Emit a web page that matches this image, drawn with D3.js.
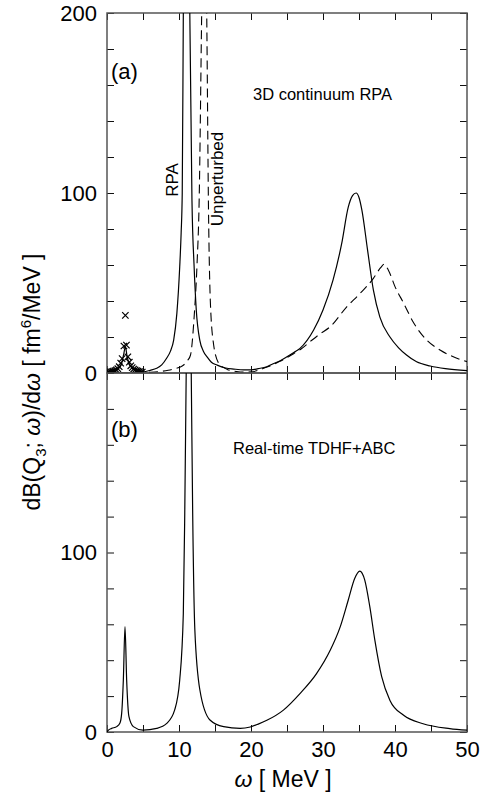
<!DOCTYPE html>
<html>
<head>
<meta charset="utf-8">
<script src="https://cdn.jsdelivr.net/npm/d3@7"></script>
<style>
  body { margin: 0; background: #fff; }
  svg { display: block; font-family: "Liberation Sans", Arial, Helvetica, sans-serif; }
  .tick line { stroke: #111; stroke-width: 1; }
</style>
</head>
<body>
<div id="chart"></div>
<script>
const width = 481;
const height = 797;

// plot area (both panels share x)
const left = 107, right = 467;
const topA = 13, baseA = 373, baseB = 732;

// panel (a): continuum RPA (solid) [omega MeV, value]
const rpaCurve = [
  [0, 0.3], [0.5, 0.5], [1, 1], [1.5, 2], [2, 5], [2.3, 10], [2.55, 14.5], [2.8, 9],
  [3.1, 5], [3.5, 2.5], [4, 1.2], [4.5, 0.8], [5.1, 0.7], [6, 1.5], [6.9, 2.6], [7.6, 4.5],
  [8.3, 8.3], [8.8, 12], [9.26, 18.3], [9.7, 33], [10.1, 59], [10.3, 78], [10.45, 100],
  [10.6, 200], [10.8, 300], [11.05, 350], [11.3, 300], [11.5, 200], [11.8, 96], [12.1, 59],
  [12.4, 35], [12.9, 18], [13.4, 12], [13.9, 9], [14.5, 6], [15.3, 4.4], [16.5, 2.8],
  [17.6, 2.2], [19, 1.7], [20, 1.7], [21, 2.4], [22.2, 3.5], [23, 5], [24, 6.7], [25, 9],
  [26, 11.5], [26.8, 13.7], [28.7, 23.9], [30, 35], [31.4, 51.7], [32.6, 72], [33.5, 92],
  [34.1, 98.5], [34.6, 100], [35, 97.5], [35.4, 90.5], [36.2, 68], [37, 46], [37.9, 31],
  [39.3, 20], [40.5, 14], [41.6, 10], [43, 6.2], [44.9, 3.9], [47, 2.4], [50, 1.3]
];

// panel (a): unperturbed (dashed)
const unpertCurve = [
  [0, 0], [4.5, 0], [5.5, 0.3], [7, 0.7], [8.5, 1.5], [9.5, 2.5], [10.5, 4], [11.2, 7],
  [11.6, 10], [12.1, 31], [12.5, 60], [12.8, 96], [13.15, 200], [13.5, 300], [13.85, 200],
  [14.1, 90], [14.35, 40], [14.8, 16], [15.5, 5.5], [16.2, 3], [16.7, 2], [18, 0.8],
  [19, 0.5], [20, 0.6], [21, 1.5], [22, 3], [23, 4.5], [24, 6.5], [25, 8.5], [26, 11],
  [27, 13.5], [28.2, 17.4], [29.5, 21.5], [31, 25.7], [33.3, 36.8], [35.1, 44], [37, 52.6],
  [38, 58.5], [38.5, 60.4], [39.1, 57], [40, 48], [41.2, 38.8], [42.5, 28.5], [44.4, 18.3],
  [46.25, 12.8], [48.1, 9], [50, 6.3]
];

// panel (a): low-lying discrete points (crosses)
const crossPoints = [
  [0.1, 0.3], [0.3, 0.4], [0.5, 0.6], [0.7, 0.8], [0.9, 1.0], [1.1, 1.3], [1.3, 1.7],
  [1.5, 2.4], [1.7, 3.5], [1.9, 5.5], [2.1, 8], [2.35, 15], [2.55, 32], [2.7, 15.5],
  [2.9, 9], [3.1, 6], [3.3, 4], [3.5, 3], [3.7, 2.2], [3.9, 1.7], [4.1, 1.3], [4.3, 1],
  [4.5, 0.8], [4.7, 0.6], [4.9, 0.5]
];

// panel (b): real-time TDHF+ABC
const tdhfCurve = [
  [0, 0], [0.2, 1], [0.65, 2], [1.35, 3], [1.8, 5], [2.04, 10.5], [2.27, 29], [2.5, 58.7],
  [2.73, 29], [3.05, 8.5], [3.66, 3], [5, 1], [6.9, 2], [8.3, 4.8], [9.4, 12.3], [10.1, 29],
  [10.6, 66], [10.8, 122], [11.0, 200], [11.35, 320], [11.7, 200], [11.9, 122], [12.2, 57],
  [12.9, 23.4], [14.3, 6.7], [16.2, 3], [18.5, 2], [19.9, 2.8], [21, 4.4], [22.2, 6.5],
  [24.5, 12.2], [26.8, 21.4], [29.1, 32.5], [31, 45.5], [32.4, 58.7],
  [33.5, 73.4], [34.4, 85.5], [35.1, 89.6], [35.8, 84.6], [36.5, 69.8], [37.2, 51.2],
  [38.15, 30.8], [39.3, 17.6], [41.2, 9.3], [43.9, 4.6], [47.6, 1.9], [50, 1]
];

const xTicks = d3.range(0, 51, 5);
const xLabels = [0, 10, 20, 30, 40, 50];
const yTicks = d3.range(0, 201, 20);
const yLabelsA = [0, 100, 200];
const yLabelsB = [0, 100];

const svg = d3.select("#chart").append("svg")
  .attr("width", width).attr("height", height);

const x = d3.scaleLinear().domain([0, 50]).range([left, right]);

const panels = [
  { id: "a", y: d3.scaleLinear().domain([0, 200]).range([baseA, topA]), labels: yLabelsA },
  { id: "b", y: d3.scaleLinear().domain([0, 200]).range([baseB, baseA]), labels: yLabelsB }
];

const line = (y) => d3.line().x(d => x(d[0])).y(d => y(d[1])).curve(d3.curveMonotoneX);

panels.forEach(p => {
  const [y0, y1] = p.y.range();
  const g = svg.append("g");

  g.append("clipPath").attr("id", "clip-" + p.id)
    .append("rect").attr("x", left).attr("y", y1).attr("width", right - left).attr("height", y0 - y1);

  // ticks, all pointing inward
  g.append("g").attr("transform", `translate(${left},0)`)
    .call(d3.axisLeft(p.y).tickValues(yTicks).tickSize(-7).tickFormat(""))
    .call(a => a.select(".domain").remove());
  g.append("g").attr("transform", `translate(${right},0)`)
    .call(d3.axisRight(p.y).tickValues(yTicks).tickSize(-7).tickFormat(""))
    .call(a => a.select(".domain").remove());
  g.append("g").attr("transform", `translate(0,${y0})`)
    .call(d3.axisBottom(x).tickValues(xTicks).tickSize(-7).tickFormat(""))
    .call(a => a.select(".domain").remove());
  g.append("g").attr("transform", `translate(0,${y1})`)
    .call(d3.axisTop(x).tickValues(xTicks).tickSize(-7).tickFormat(""))
    .call(a => a.select(".domain").remove());

  // y labels
  g.append("g").attr("transform", `translate(${left},0)`)
    .call(d3.axisLeft(p.y).tickValues(p.labels).tickSize(0).tickPadding(10))
    .call(a => a.select(".domain").remove())
    .selectAll("text").attr("font-size", 22).attr("fill", "#000")
    .attr("font-family", "Liberation Sans, Arial, sans-serif");

  g.append("rect")
    .attr("x", left).attr("y", y1).attr("width", right - left).attr("height", y0 - y1)
    .attr("fill", "none").attr("stroke", "#555").attr("stroke-width", 1.5);

  p.g = g;
});

const [pa, pb] = panels;

const plotA = pa.g.append("g").attr("clip-path", "url(#clip-a)");
plotA.append("path").datum(unpertCurve)
  .attr("d", line(pa.y)).attr("fill", "none").attr("stroke", "#000")
  .attr("stroke-width", 1.1).attr("stroke-dasharray", "9,5");
plotA.append("path").datum(rpaCurve)
  .attr("d", line(pa.y)).attr("fill", "none").attr("stroke", "#000").attr("stroke-width", 1.2);

const s = 3.2;
plotA.append("g").selectAll("path").data(crossPoints).join("path")
  .attr("d", d => {
    const cx = x(d[0]), cy = pa.y(d[1]);
    return `M${cx - s},${cy - s}L${cx + s},${cy + s}M${cx - s},${cy + s}L${cx + s},${cy - s}`;
  })
  .attr("stroke", "#000").attr("stroke-width", 1.2);

const plotB = pb.g.append("g").attr("clip-path", "url(#clip-b)");
plotB.append("path").datum(tdhfCurve)
  .attr("d", line(pb.y)).attr("fill", "none").attr("stroke", "#000").attr("stroke-width", 1.2);

// x tick labels
svg.append("g").attr("transform", `translate(0,${baseB})`)
  .call(d3.axisBottom(x).tickValues(xLabels).tickSize(0).tickPadding(9))
  .call(a => a.select(".domain").remove())
  .selectAll("text").attr("font-size", 22).attr("fill", "#000")
  .attr("font-family", "Liberation Sans, Arial, sans-serif");

// annotations
const txt = (xp, yp, str, size) => svg.append("text")
  .attr("x", xp).attr("y", yp).attr("font-size", size).text(str);

txt(111, 79, "(a)", 22);
txt(111, 437, "(b)", 22);
txt(253, 100, "3D continuum RPA", 16.5);
txt(233, 454, "Real-time TDHF+ABC", 16.5);

svg.append("text").attr("transform", "translate(178,180) rotate(-90)")
  .attr("text-anchor", "middle").attr("font-size", 17).text("RPA");
svg.append("text").attr("transform", "translate(223,179) rotate(-90)")
  .attr("text-anchor", "middle").attr("font-size", 17).text("Unperturbed");

// axis titles
const xt = svg.append("text").attr("x", 283).attr("y", 787)
  .attr("text-anchor", "middle").attr("font-size", 23);
xt.append("tspan").attr("font-style", "italic").text("ω");
xt.append("tspan").text(" [ MeV ]");

const yt = svg.append("text").attr("transform", "translate(40,382) rotate(-90)")
  .attr("text-anchor", "middle").attr("font-size", 23);
yt.append("tspan").text("dB(Q");
yt.append("tspan").attr("font-size", 15).attr("dy", 6).text("3");
yt.append("tspan").attr("dy", -6).text("; ");
yt.append("tspan").attr("font-style", "italic").text("ω");
yt.append("tspan").text(")/d");
yt.append("tspan").attr("font-style", "italic").text("ω");
yt.append("tspan").text(" [ fm");
yt.append("tspan").attr("font-size", 15).attr("dy", -9).text("6");
yt.append("tspan").attr("dy", 9).text("/MeV ]");
</script>
</body>
</html>
